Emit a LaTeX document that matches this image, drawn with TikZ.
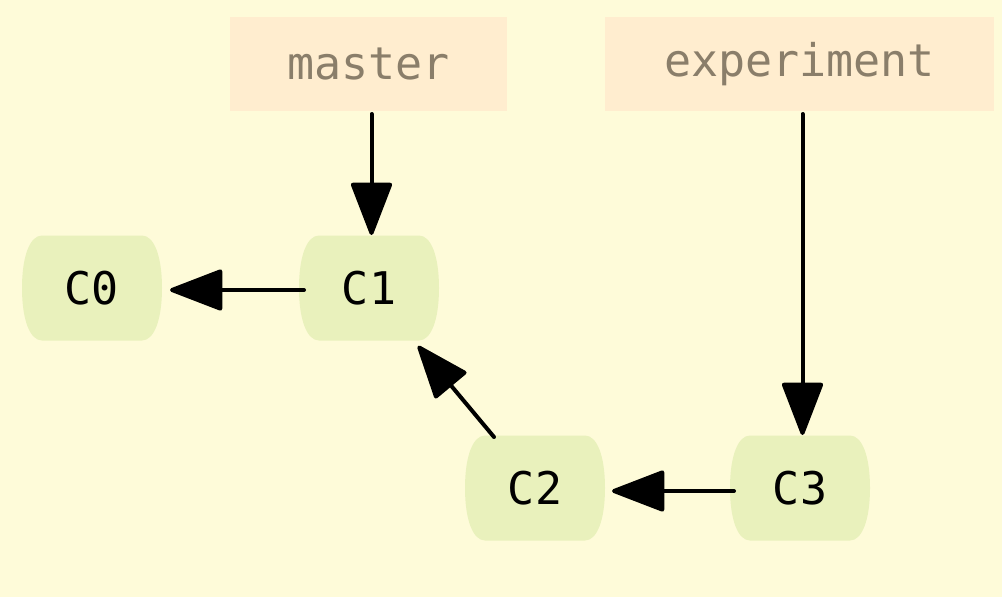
\documentclass[tikz,border=0pt]{standalone}
\usepackage{fontspec}
\setmonofont{DejaVu Sans Mono}
\usetikzlibrary{arrows.meta,calc}
\definecolor{bgcol}{HTML}{FEFBD9}
\definecolor{commitfill}{HTML}{E9F1BC}
\definecolor{branchfill}{HTML}{FFEDCF}
\definecolor{branchtext}{HTML}{8A7E6A}
\pgfdeclarelayer{bglayer}
\pgfdeclarelayer{shapelayer}
\pgfsetlayers{bglayer,shapelayer,main}
\tikzset{
  commit/.style={minimum width=140pt, minimum height=105pt, inner sep=0pt, font=\ttfamily\fontsize{45}{45}\selectfont, text=black},
  branch/.style={fill=branchfill, inner sep=0pt, minimum height=94pt, font=\ttfamily\fontsize{45}{45}\selectfont, text=branchtext},
  link/.style={line width=4pt, line cap=round, -{Triangle[length=56pt 0,width=42pt 0,round=false]}},
}
\newcommand\commitbg[1]{%
  \fill[commitfill] ($(#1.center)+(-50,-52.5)$) -- ($(#1.center)+(50,-52.5)$)
    .. controls ($(#1.center)+(62,-52.5)$) and ($(#1.center)+(70,-32)$) .. ($(#1.center)+(70,0)$)
    .. controls ($(#1.center)+(70,32)$) and ($(#1.center)+(62,52.5)$) .. ($(#1.center)+(50,52.5)$)
    -- ($(#1.center)+(-50,52.5)$)
    .. controls ($(#1.center)+(-62,52.5)$) and ($(#1.center)+(-70,32)$) .. ($(#1.center)+(-70,0)$)
    .. controls ($(#1.center)+(-70,-32)$) and ($(#1.center)+(-62,-52.5)$) .. ($(#1.center)+(-50,-52.5)$) -- cycle;}
\begin{document}
\begin{tikzpicture}[x=1pt,y=-1pt]
\begin{pgfonlayer}{bglayer}
\fill[bgcol] (0,0) rectangle (1002,597);
\end{pgfonlayer}
\useasboundingbox (0,0) rectangle (1002,597);
\node[branch, minimum width=277pt] (master) at (368.5,64) {master};
\node[branch, minimum width=389pt] (experiment) at (799.5,64) {experiment};
\node[commit] (c0) at (92,288) {C0};
\node[commit] (c1) at (369,288) {C1};
\node[commit] (c2) at (535,488) {C2};
\node[commit] (c3) at (800,488) {C3};
\begin{pgfonlayer}{shapelayer}
\commitbg{c0}\commitbg{c1}\commitbg{c2}\commitbg{c3}
\end{pgfonlayer}
\coordinate (m1) at (371.5,114);
\coordinate (m2) at (371.5,235);
\coordinate (e1) at (802.5,114);
\coordinate (e2) at (802.5,435);
\coordinate (s10) at (304,290);
\coordinate (t10) at (170,290);
\coordinate (s21) at (494,437);
\coordinate (t21) at (418,346);
\coordinate (s32) at (734,491);
\coordinate (t32) at (612,491);
\draw[link] (m1) -- (m2);
\draw[link] (e1) -- (e2);
\draw[link] (s10) -- (t10);
\draw[link] (s21) -- (t21);
\draw[link] (s32) -- (t32);
\end{tikzpicture}
\end{document}
